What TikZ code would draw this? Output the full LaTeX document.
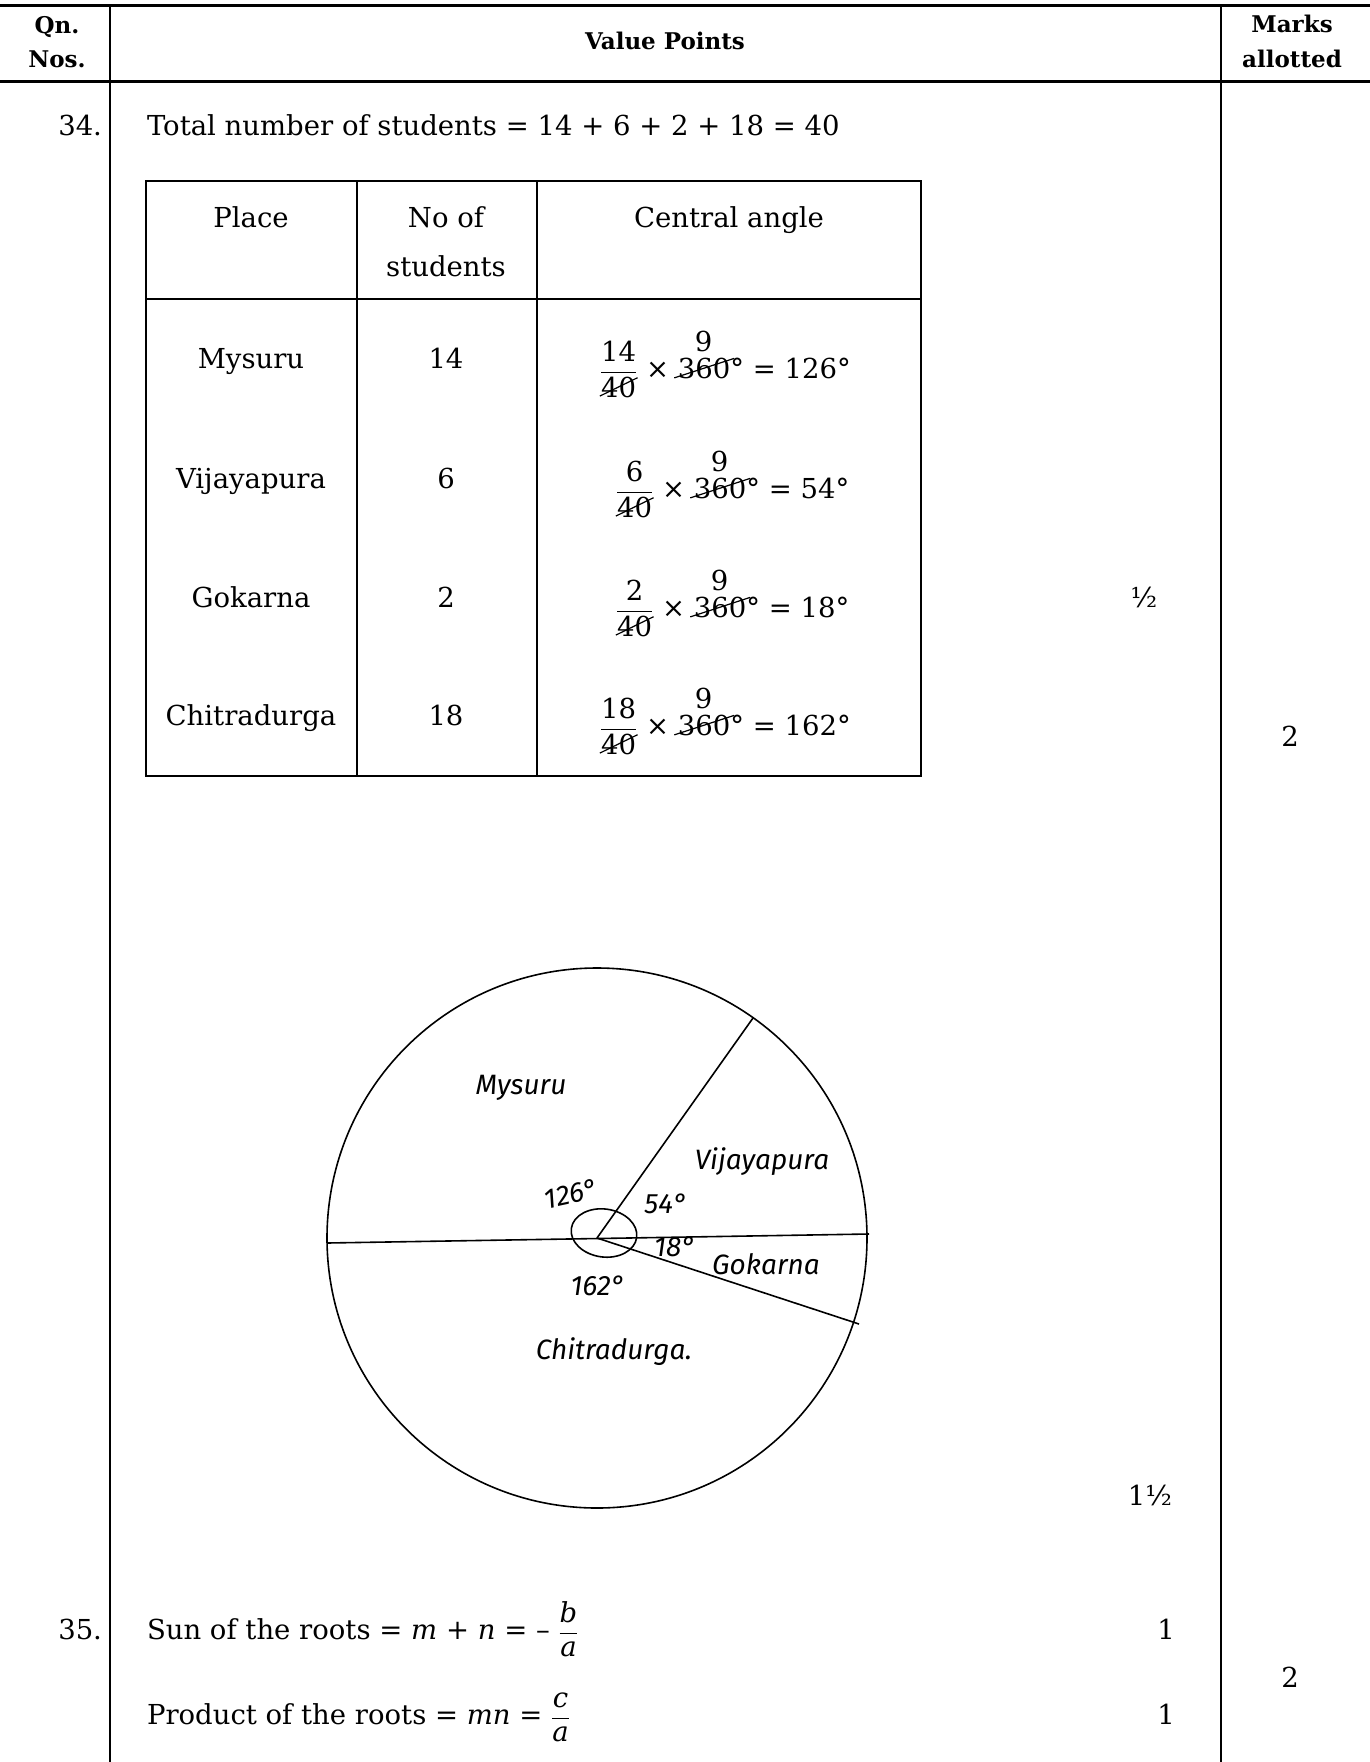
\documentclass[tikz,border=0pt]{standalone}
\usepackage{amsmath}
\usepackage{graphicx}
\usepackage{fontspec}
\setmainfont{DejaVu Serif}
\newfontfamily\handfont{Fira Sans}
\newcommand{\slashed}[2]{\setbox0\hbox{#1}\rlap{#1}\makebox[\wd0]{\raisebox{0.36em}{\rotatebox[origin=c]{#2}{\rule{1.2\wd0}{1.2pt}}}}}
\newcommand{\ninecut}{\rlap{\hspace{0.62em}\raisebox{0.98em}{9}}\slashed{360}{18}°}
\newcommand{\fortyfrac}[1]{$\genfrac{}{}{1.3pt}{0}{\hbox{#1}}{\hbox{\slashed{40}{26}}}$}
\begin{document}
\begin{tikzpicture}[x=1pt,y=-1pt,
  every node/.style={inner sep=0pt, outer sep=0pt},
  rulebold/.style={line width=3pt},
  colline/.style={line width=2.2pt},
  tabline/.style={line width=1.4pt},
  pieline/.style={line width=1.6pt},
  txt/.style={font=\fontsize{27.5}{33}\selectfont, text height=0.75em, text depth=0.22em},
  hdr/.style={font=\bfseries\fontsize{23}{27}\selectfont, text height=0.75em, text depth=0.22em},
  hand/.style={font=\handfont\itshape\fontsize{28}{32}\selectfont}]
\useasboundingbox (0,0) rectangle (1370,1762);
\fill[white] (0,0) rectangle (1370,1762);
% page frame
\draw[rulebold] (0,5) -- (1370,5);
\draw[rulebold] (0,81) -- (1370,81);
\draw[colline] (110,5) -- (110,1762);
\draw[colline] (1221,5) -- (1221,1762);
% header
\node[hdr] (qn) at (57,31) {Qn.};
\node[hdr] (nos) at (57,65) {Nos.};
\node[hdr] (vp) at (665,47) {Value Points};
\node[hdr] (marks) at (1292,30) {Marks};
\node[hdr] (allot) at (1292,65) {allotted};
% question 34
\node[txt, anchor=east] (q34) at (102,133) {34.};
\node[txt, anchor=west] (total) at (147,133) {Total number of students = 14 + 6 + 2 + 18 = 40};
% table
\draw[tabline] (146,181) rectangle (921,776);
\draw[tabline] (146,299) -- (921,299);
\draw[tabline] (357,181) -- (357,776);
\draw[tabline] (537,181) -- (537,776);
\node[txt] (hplace) at (251,225) {Place};
\node[txt] (hno) at (446,225) {No of};
\node[txt] (hstud) at (446,274) {students};
\node[txt] (hang) at (729,225) {Central angle};
\node[txt] (p1) at (251,366) {Mysuru};
\node[txt] (p2) at (251,486) {Vijayapura};
\node[txt] (p3) at (251,605) {Gokarna};
\node[txt] (p4) at (251,723) {Chitradurga};
\node[txt] (n1) at (446,366) {14};
\node[txt] (n2) at (446,486) {6};
\node[txt] (n3) at (446,605) {2};
\node[txt] (n4) at (446,723) {18};
\node[txt, anchor=west] (f1) at (600,376) {\fortyfrac{14} × \ninecut{} = 126°};
\node[txt, anchor=west] (f2) at (616,496) {\fortyfrac{6} × \ninecut{} = 54°};
\node[txt, anchor=west] (f3) at (616,615) {\fortyfrac{2} × \ninecut{} = 18°};
\node[txt, anchor=west] (f4) at (600,733) {\fortyfrac{18} × \ninecut{} = 162°};
% marks
\node[txt] (mhalf) at (1144,605) {½};
\node[txt] (mtwo1) at (1290,744) {2};
\node[txt] (monehalf) at (1150,1503) {1½};
% pie chart
\coordinate (pc) at (597,1238);
\coordinate (pl) at (327,1243);
\coordinate (pr) at (869,1234);
\coordinate (pu) at (753,1018);
\coordinate (pd) at (859,1324);
\draw[pieline] (pc) circle [radius=270];
\draw[pieline] (pl) -- (pr);
\draw[pieline] (pc) -- (pu);
\draw[pieline] (pc) -- (pd);
\draw[pieline, rotate around={-8:(604,1233)}] (604,1233) ellipse [x radius=33, y radius=24];
\node[hand] (lmys) at (521,1088) {Mysuru};
\node[hand] (lvij) at (762,1162) {Vijayapura};
\node[hand, rotate=12] (l126) at (571,1194) {126°};
\node[hand] (l54) at (666,1204) {54°};
\node[hand] (l18) at (675,1247) {18°};
\node[hand] (lgok) at (766,1264) {Gokarna};
\node[hand] (l162) at (598,1286) {162°};
\node[hand] (lchi) at (614,1352) {Chitradurga.};
% question 35
\node[txt, anchor=east] (q35) at (102,1637) {35.};
\node[txt, anchor=west] (sum) at (147,1637) {Sun of the roots = \textit{m} + \textit{n} = – $\genfrac{}{}{1.3pt}{0}{\hbox{\textit{b}}}{\hbox{\textit{a}}}$};
\node[txt, anchor=west] (prod) at (147,1722) {Product of the roots = \textit{mn} = $\genfrac{}{}{1.3pt}{0}{\hbox{\textit{c}}}{\hbox{\textit{a}}}$};
\node[txt] (mone1) at (1166,1637) {1};
\node[txt] (mone2) at (1166,1722) {1};
\node[txt] (mtwo2) at (1290,1685) {2};
\end{tikzpicture}
\end{document}
